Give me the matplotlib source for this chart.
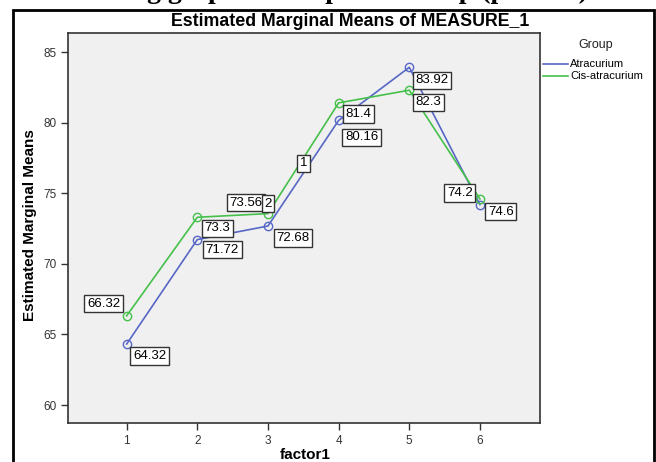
import numpy as np
import matplotlib.pyplot as plt
from matplotlib.patches import Rectangle

# dati
factor = [1, 2, 3, 4, 5, 6]
atracurium = [64.32, 71.72, 72.68, 80.16, 83.92, 74.2]
cis_atracurium = [66.32, 73.3, 73.56, 81.4, 82.3, 74.6]
lab_atra = ["64.32", "71.72", "72.68", "80.16", "83.92", "74.6"]
lab_cis = ["66.32", "73.3", "73.56", "81.4", "82.3", "74.2"]
yticks = [60, 65, 70, 75, 80, 85]

blu = "#5667c6"
verde = "#45c04a"

plt.rcParams['font.family'] = ['Liberation Sans', 'DejaVu Sans']

fig = plt.figure(figsize=(6.56, 4.62), dpi=100)
W, H = 656, 462
ax = fig.add_axes([68/W, 1-423/H, (540-68)/W, (423-33)/H])
ax.set_facecolor("#f0f0f0")
for s in ax.spines.values():
    s.set_color("#333333")
    s.set_linewidth(1.2)

ax.plot(factor, atracurium, color=blu, lw=1.2, marker='o', ms=6,
        mfc='none', mec=blu, mew=1, label="Atracurium")
ax.plot(factor, cis_atracurium, color=verde, lw=1.2, marker='o', ms=6,
        mfc='none', mec=verde, mew=1, label="Cis-atracurium")

ax.set_xlim(0.17, 6.85)
ax.set_ylim(58.73, 86.35)
ax.set_xticks(factor)
ax.set_yticks(yticks)
ax.tick_params(colors="#333333", labelcolor="#333333", labelsize=8.5, length=5, width=1)

box = dict(boxstyle="square,pad=0.2", fc="white", ec="#333333", lw=1)

# offset etichette (pixel)
off_cis = [(-23, 12), (20, -11), (-22, 11), (20, -11), (19, -12), (-20, 6)]
off_atra = [(23, -12), (25, -10), (25, -12), (23, -17), (23, -13), (21, -7)]
for i in range(len(factor)):
    ax.annotate(lab_cis[i], (factor[i], cis_atracurium[i]), xytext=off_cis[i],
                textcoords='offset pixels', ha='center', va='center', fontsize=9.5, bbox=box)
    ax.annotate(lab_atra[i], (factor[i], atracurium[i]), xytext=off_atra[i],
                textcoords='offset pixels', ha='center', va='center', fontsize=9.5, bbox=box)

# etichette "1" e "2"
ax.annotate("2", (3, cis_atracurium[2]), xytext=(0, 10), textcoords='offset pixels',
            ha='center', va='center', fontsize=9.5, bbox=box)
ax.annotate("1", (3.5, (atracurium[2]+atracurium[3])/2 + 0.7), xytext=(0, 0),
            textcoords='offset pixels', ha='center', va='center', fontsize=9.5, bbox=box)

fig.text(350/W, 1-22/H, "Estimated Marginal Means of MEASURE_1", ha='center', va='center',
         fontsize=12.8, fontweight='bold')
fig.text(30/W, 1-225/H, "Estimated Marginal Means", rotation=90, ha='center', va='center',
         fontsize=11, fontweight='bold', fontstretch='condensed')
fig.text(305/W, 1-455/H, "factor1", ha='center', va='center', fontsize=11, fontweight='bold')

# legenda
fig.text(596/W, 1-45/H, "Group", ha='center', va='center', fontsize=9, color="#222222")
fig.add_artist(plt.Line2D([543/W, 568/W], [1-64/H, 1-64/H], color=blu, lw=1.2))
fig.add_artist(plt.Line2D([543/W, 568/W], [1-76/H, 1-76/H], color=verde, lw=1.2))
fig.text(570/W, 1-64/H, "Atracurium", ha='left', va='center', fontsize=8)
fig.text(570/W, 1-76/H, "Cis-atracurium", ha='left', va='center', fontsize=8)

# cornice e testo tagliato in alto
fig.add_artist(Rectangle((13/W, -0.1), (654-13)/W, 1.1-10/H, transform=fig.transFigure,
                         fill=False, ec="black", lw=2))
fig.text(330/W, 1+2/H, "showing graph of comparison map (p-value).", ha='center', va='baseline',
         fontsize=20, fontweight='bold', family='Liberation Serif')

fig.savefig("out.png", dpi=100)
